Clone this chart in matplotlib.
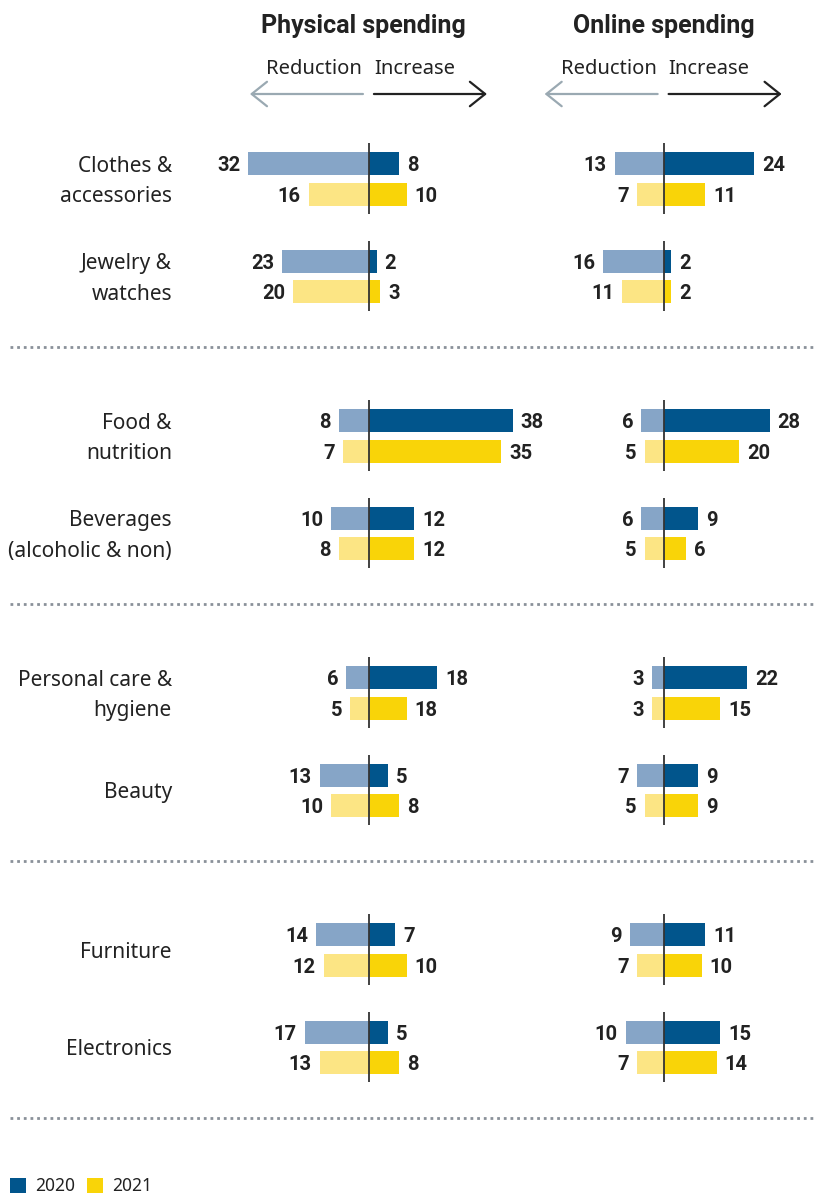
import matplotlib
matplotlib.use("Agg")
import matplotlib.pyplot as plt
from matplotlib.patches import FancyArrowPatch, Rectangle

plt.rcParams['font.family'] = ['Noto Sans', 'DejaVu Sans']
BOLD = ['Roboto', 'DejaVu Sans']

categories = ["Clothes &\naccessories", "Jewelry &\nwatches", "Food &\nnutrition",
              "Beverages\n(alcoholic & non)", "Personal care &\nhygiene", "Beauty",
              "Furniture", "Electronics"]
years = ["2020", "2021"]

phys_red_2020 = [32, 23, 8, 10, 6, 13, 14, 17]
phys_inc_2020 = [8, 2, 38, 12, 18, 5, 7, 5]
phys_red_2021 = [16, 20, 7, 8, 5, 10, 12, 13]
phys_inc_2021 = [10, 3, 35, 12, 10, 8, 10, 8]          # bar lengths as drawn
phys_inc_2021_labels = [10, 3, 35, 12, 18, 8, 10, 8]   # printed values

onl_red_2020 = [13, 16, 6, 6, 3, 7, 9, 10]
onl_inc_2020 = [24, 2, 28, 9, 22, 9, 11, 15]
onl_red_2021 = [7, 11, 5, 5, 3, 5, 7, 7]
onl_inc_2021 = [11, 2, 20, 6, 15, 9, 10, 14]

panel_titles = ["Physical spending", "Online spending"]

# colours
C_INC = {"2020": "#01558c", "2021": "#f9d408"}
C_RED = {"2020": "#86a5c7", "2021": "#fce584"}
TXT = "#222222"

W, H = 817, 1195
fig = plt.figure(figsize=(W / 100, H / 100), dpi=100)

# layout (pixel units)
row0 = 178.75
group_pitch = 257.0
row_pitch = 97.5
bar_off = 15.25
bar_h = 23
scale = 3.78  # px per unit
centers = [369, 663.7]
title_shift = [-1.6, 0.0]

def row_y(i):
    return row0 + (i // 2) * group_pitch + (i % 2) * row_pitch

base = fig.add_axes([0, 0, 1, 1])
base.set_xlim(0, W)
base.set_ylim(H, 0)
base.axis("off")

panels = [
    (phys_red_2020, phys_inc_2020, phys_red_2021, phys_inc_2021,
     phys_red_2020, phys_inc_2020, phys_red_2021, phys_inc_2021_labels),
    (onl_red_2020, onl_inc_2020, onl_red_2021, onl_inc_2021,
     onl_red_2020, onl_inc_2020, onl_red_2021, onl_inc_2021),
]

for p, (cx, data) in enumerate(zip(centers, panels)):
    ax = fig.add_axes([0, 0, 1, 1], zorder=2)
    ax.patch.set_alpha(0)
    ax.set_xlim(-cx / scale, (W - cx) / scale)
    ax.set_ylim(H, 0)
    ax.axis("off")
    red20, inc20, red21, inc21, lr20, li20, lr21, li21 = data
    ys20 = [row_y(i) - bar_off for i in range(len(categories))]
    ys21 = [row_y(i) + bar_off for i in range(len(categories))]
    ax.barh(ys20, [-v for v in red20], height=bar_h, color=C_RED["2020"], linewidth=0)
    ax.barh(ys20, inc20, height=bar_h, color=C_INC["2020"], linewidth=0)
    ax.barh(ys21, [-v for v in red21], height=bar_h, color=C_RED["2021"], linewidth=0)
    ax.barh(ys21, inc21, height=bar_h, color=C_INC["2021"], linewidth=0)
    pad = 8 / scale
    rows = list(zip(ys20, red20, inc20, lr20, li20)) + list(zip(ys21, red21, inc21, lr21, li21))
    for y, r, inc, lr, li in rows:
        ax.text(-r - pad, y, str(lr), ha="right", va="center_baseline", fontsize=14.5,
                fontweight="bold", color=TXT, family=BOLD)
        ax.text(inc + pad, y, str(li), ha="left", va="center_baseline", fontsize=14.5,
                fontweight="bold", color=TXT, family=BOLD)
    for i in range(len(categories)):
        yc = row_y(i)
        ax.plot([0, 0], [yc - bar_off - bar_h / 2 - 9, yc + bar_off + bar_h / 2 + 8],
                color="#333333", lw=1.3, solid_capstyle="butt", zorder=3)
    # headers
    ax.text(title_shift[p], 26, panel_titles[p], ha="center", va="center", fontsize=18,
            fontweight="bold", color=TXT, family=BOLD)
    ax.text(-1.8, 69, "Reduction", ha="right", va="center", fontsize=14.5, color=TXT)
    ax.text(1.3, 69, "Increase", ha="left", va="center", fontsize=14.5, color=TXT)
    ax.add_patch(FancyArrowPatch((-1.6, 94), (-31.5, 94), arrowstyle="->,head_length=5,head_width=4",
                                 color="#9aa9b2", lw=1.6, mutation_scale=2.2, shrinkA=0, shrinkB=0))
    ax.add_patch(FancyArrowPatch((1.3, 94), (31.2, 94), arrowstyle="->,head_length=5,head_width=4",
                                 color="#222222", lw=1.6, mutation_scale=2.2, shrinkA=0, shrinkB=0))

# category labels
for i, cat in enumerate(categories):
    lines = cat.split("\n")
    yc = row_y(i)
    if len(lines) == 1:
        base.text(172, yc, lines[0], ha="right", va="center_baseline", fontsize=15, color=TXT)
    else:
        base.text(172, yc - bar_off, lines[0], ha="right", va="center_baseline", fontsize=15, color=TXT)
        base.text(172, yc + bar_off, lines[1], ha="right", va="center_baseline", fontsize=15, color=TXT)

# separators
for g in range(4):
    ys = row0 + g * group_pitch + 168.25
    base.plot([10, W], [ys, ys], color="#8a9199", lw=2, linestyle=(0, (1, 1.4)))

# legend
for yr, tx in zip(years, [35, 112]):
    sx = tx - 25
    base.add_patch(Rectangle((sx, 1178), 16, 15, color=C_INC[yr], lw=0))
    base.text(tx, 1186, yr, ha="left", va="center", fontsize=12.5, color=TXT)

fig.savefig("out.png", dpi=100)
